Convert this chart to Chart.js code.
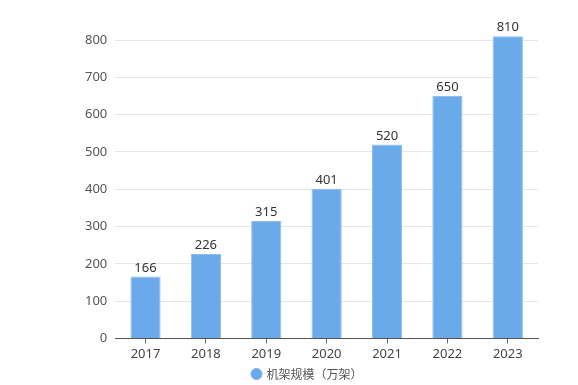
<!DOCTYPE html>
<html>
<head>
<meta charset="utf-8">
<script src="https://cdn.jsdelivr.net/npm/chart.js@4/dist/chart.umd.min.js"></script>
<style>
  body { margin: 0; background: #fff; }
</style>
</head>
<body>
<canvas id="rackChart" width="578" height="385"></canvas>
<script>
  // data
  const years = ['2017', '2018', '2019', '2020', '2021', '2022', '2023'];
  const rackScale = [166, 226, 315, 401, 520, 650, 810];
  const seriesName = '机架规模（万架）';

  // value labels above the bars
  const barLabels = {
    id: 'barLabels',
    afterDatasetsDraw(chart) {
      const ctx = chart.ctx;
      const meta = chart.getDatasetMeta(0);
      ctx.save();
      ctx.font = '13px "Noto Sans", sans-serif';
      ctx.fillStyle = '#333';
      ctx.textAlign = 'center';
      ctx.textBaseline = 'bottom';
      meta.data.forEach((bar, i) => {
        ctx.fillText(rackScale[i], bar.x, bar.y - 2);
      });
      ctx.restore();
    }
  };

  const rackConfig = {
    type: 'bar',
    data: {
      labels: years,
      datasets: [{
        label: seriesName,
        data: rackScale,
        backgroundColor: '#6aaaea',
        borderColor: '#8cbdf0',
        borderWidth: 1,
        barPercentage: 0.5,
        categoryPercentage: 1,
        clip: false
      }]
    },
    options: {
      responsive: false,
      animation: false,
      layout: { padding: { left: 77, right: 40, top: 40, bottom: -5 } },
      scales: {
        x: {
          grid: {
            offset: false,
            drawOnChartArea: false,
            tickLength: 5,
            color: '#666'
          },
          border: { color: '#555' },
          ticks: { color: '#444', font: { size: 13, family: '"Noto Sans", sans-serif' }, padding: 3 }
        },
        y: {
          min: 0,
          max: 800,
          ticks: { stepSize: 100, color: '#555', padding: 8, font: { size: 13, family: '"Noto Sans", sans-serif' } },
          grid: { color: '#e6e6e6', drawTicks: false },
          border: { display: false }
        }
      },
      plugins: {
        legend: {
          position: 'bottom',
          labels: {
            usePointStyle: true,
            pointStyle: 'circle',
            boxWidth: 8,
            boxHeight: 8,
            padding: 3,
            color: '#555',
            font: { size: 12, family: '"Noto Sans CJK SC", sans-serif' }
          }
        },
        tooltip: { enabled: false }
      }
    },
    plugins: [barLabels]
  };

  const rackChart = new Chart(document.getElementById('rackChart'), rackConfig);
</script>
</body>
</html>
